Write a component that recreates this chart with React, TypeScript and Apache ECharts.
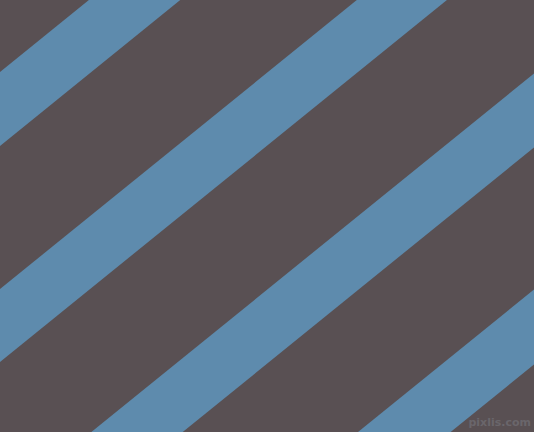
import { useEffect, useRef } from 'react';
import * as echarts from 'echarts';

// stripe edges, as the y where each edge meets the left side (x = 0)
const stripeTop = [72, 289, 506, 722];
const stripeBottom = [146, 362, 580, 797];
// edges fall by this much for every pixel to the right
const slope = 0.81;

const WIDTH = 534;
const HEIGHT = 432;

export default function App() {
  const chartRef = useRef(null);

  useEffect(() => {
    const chart = echarts.init(chartRef.current, null, { renderer: 'svg' });
    const data = stripeTop.map((t, i) => [t, stripeBottom[i]]);

    const option = {
      animation: false,
      backgroundColor: '#595053',
      grid: { left: 0, right: 0, top: 0, bottom: 0 },
      xAxis: { type: 'value', min: 0, max: WIDTH, show: false },
      yAxis: { type: 'value', min: 0, max: HEIGHT, inverse: true, show: false },
      series: [
        {
          type: 'custom',
          data,
          renderItem: (params: any, api: any) => {
            const t = api.value(0);
            const b = api.value(1);
            // polygon runs past the right edge; the svg clips it
            return {
              type: 'polygon',
              shape: {
                points: [
                  api.coord([0, t]),
                  api.coord([WIDTH, t - slope * WIDTH]),
                  api.coord([WIDTH, b - slope * WIDTH]),
                  api.coord([0, b]),
                ],
              },
              style: { fill: '#5e8bad' },
              silent: true,
            };
          },
        },
      ],
      graphic: [
        {
          type: 'text',
          right: 3,
          bottom: 4,
          style: {
            text: 'pixlis.com',
            fill: '#6a666b',
            font: 'bold 11px "DejaVu Sans", sans-serif',
          },
        },
      ],
    };

    chart.setOption(option);
    return () => {
      chart.dispose();
    };
  }, []);

  return (
    <div
      ref={chartRef}
      style={{ position: 'fixed', left: 0, top: 0, width: WIDTH + 'px', height: HEIGHT + 'px' }}
    />
  );
}
